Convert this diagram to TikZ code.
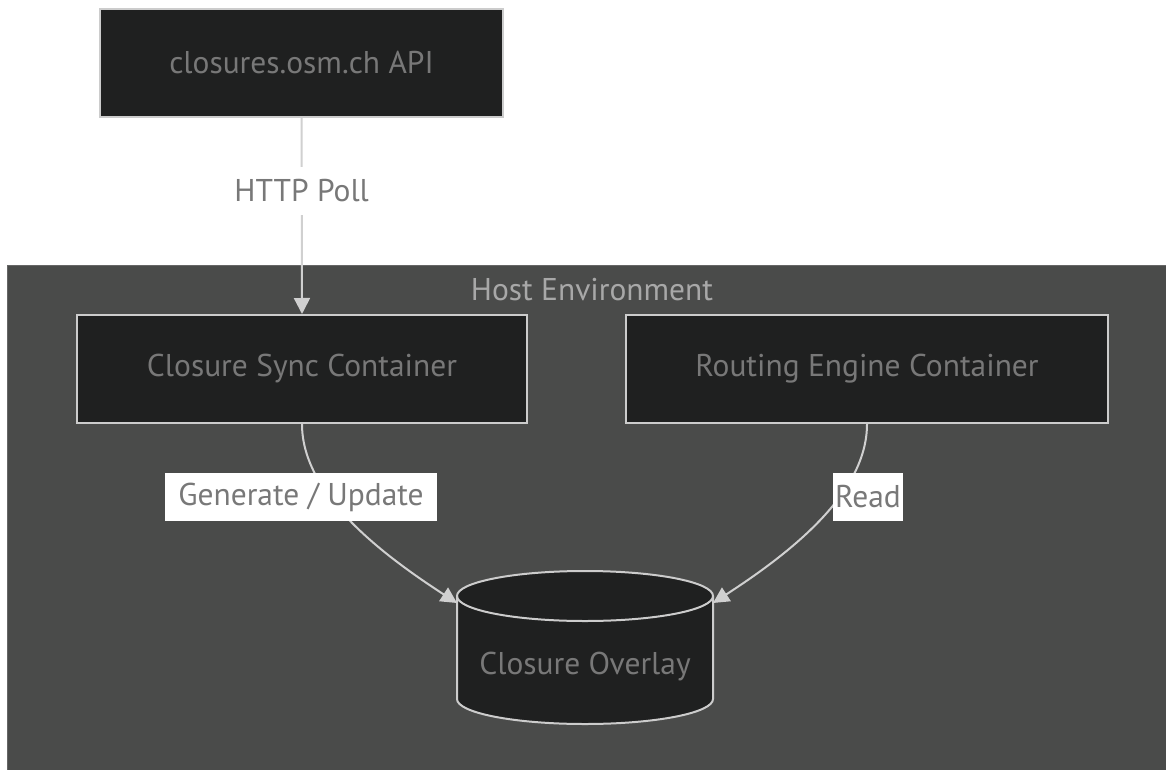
\documentclass[tikz,border=0pt]{standalone}
\usepackage{fontspec}
\setmainfont{PT Sans}
\usetikzlibrary{arrows.meta}
\definecolor{nodefill}{HTML}{1F2020}
\definecolor{nodeline}{HTML}{CCCCCC}
\definecolor{nodetext}{HTML}{787878}
\definecolor{clusterfill}{HTML}{4A4B4A}
\definecolor{clusterline}{HTML}{666666}
\definecolor{clustertext}{HTML}{A8A8A8}
\definecolor{edgecol}{HTML}{D0D0D0}
\tikzset{
  labelfont/.style={font=\fontsize{23.6}{28}\selectfont},
  pxbox/.style={draw=nodeline, line width=1.5pt, fill=nodefill, text=nodetext,
    labelfont, inner sep=0pt, minimum height=81pt},
  elabel/.style={fill=white, text=nodetext, labelfont,
    inner xsep=0pt, inner ysep=0pt, minimum height=36pt},
  flow/.style={draw=edgecol, line width=1.5pt, -{Triangle[length=12pt,width=12pt]}},
}
\begin{document}
\begin{tikzpicture}[x=0.75pt, y=-0.75pt]
\useasboundingbox (0,0) rectangle (1166,770);
\fill[white] (0,0) rectangle (1166,770);

% host environment group
\begin{scope}
\clip (0,0) rectangle (1166,770);
\draw[clusterline, fill=clusterfill, line width=0.75pt] (7,265) rectangle (1170,774);
\end{scope}
\node[text=clustertext, labelfont] (hosttitle) at (592,290) {Host Environment};

% components
\node[pxbox, minimum width=302.25pt] (api) at (301.5,63) {closures.osm.ch API};
\node[pxbox, minimum width=337.5pt] (sync) at (302,369) {Closure Sync Container};
\node[pxbox, minimum width=361.5pt] (route) at (867,369) {Routing Engine Container};

% overlay store (cylinder)
\node[inner sep=0pt, minimum width=192pt, minimum height=114.75pt] (db) at (585,647.5) {};
\draw[nodeline, line width=1.5pt, fill=nodefill]
  (457,596) -- (457,699) arc[start angle=180, end angle=360, x radius=96pt, y radius=18.75pt]
  -- (713,596) arc[start angle=0, end angle=180, x radius=96pt, y radius=18.75pt] -- cycle;
\draw[nodeline, line width=1.5pt]
  (457,596) arc[start angle=180, end angle=360, x radius=96pt, y radius=18.75pt];
\node[text=nodetext, labelfont] (dbtext) at (585,667) {Closure Overlay};
\coordinate (dbl) at (457,603);
\coordinate (dbr) at (713,603);

% connectors
\draw[flow] (api.south) -- node[pos=0.37, elabel] (lhttp) {HTTP Poll} (sync.north);
\draw[flow] (sync.south) .. controls (302,490) and (372,548) .. (dbl);
\draw[flow] (route.south) .. controls (867,490) and (798,548) .. (dbr);

\node[elabel, minimum width=204pt] (lgen) at (301,497) {Generate / Update};
\node[elabel, minimum width=52.5pt] (lread) at (868,497) {Read};
\end{tikzpicture}
\end{document}
